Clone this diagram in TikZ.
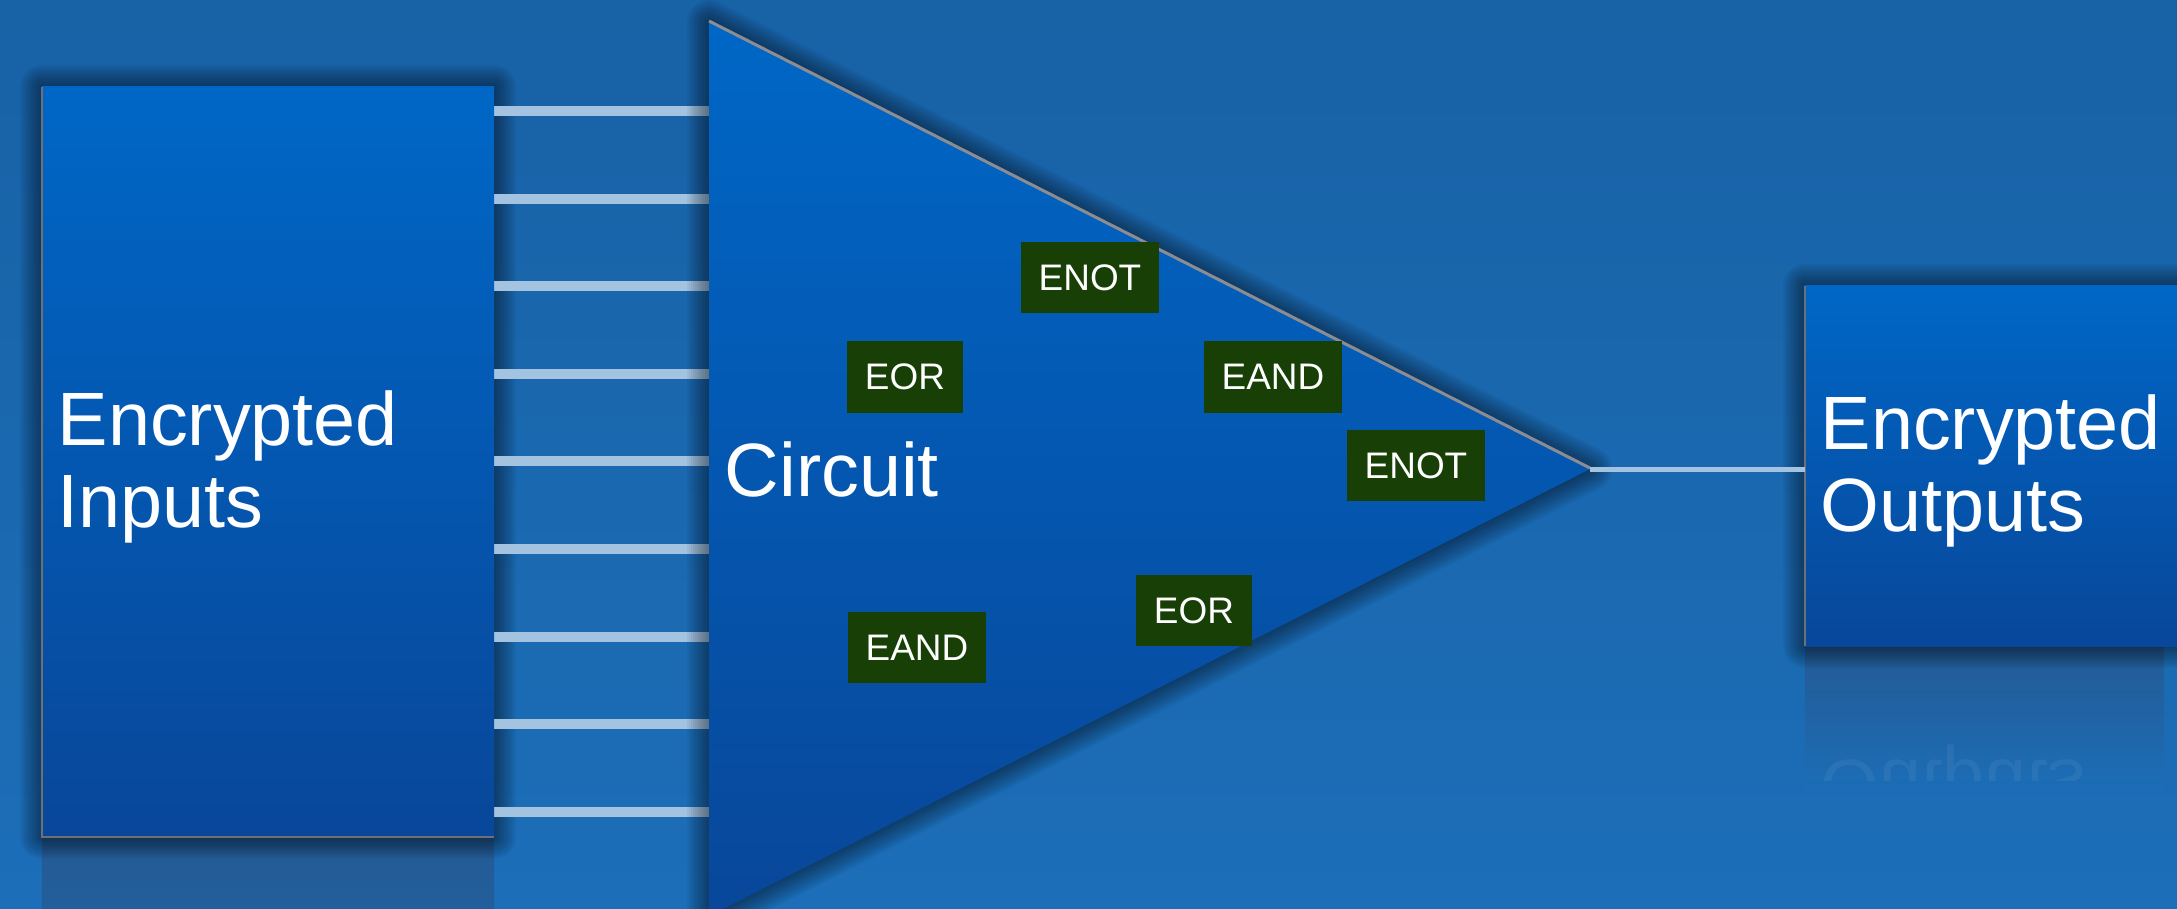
\documentclass[tikz,border=0pt]{standalone}
\usepackage{fontspec}
\setmainfont{Liberation Sans}

\definecolor{slidetop}{HTML}{1862A6}
\definecolor{slidebot}{HTML}{1C6EB8}
\definecolor{blocktop}{HTML}{0067C6}
\definecolor{blockbot}{HTML}{08479A}
\definecolor{gategreen}{HTML}{173F06}
\definecolor{wirecol}{HTML}{A3C3E1}
\definecolor{rimgray}{HTML}{6E7078}
\definecolor{mirrorcol}{HTML}{245A94}

\pgfdeclarelayer{back}
\pgfdeclarelayer{boxglow}
\pgfdeclarelayer{wiring}
\pgfdeclarelayer{triglow}
\pgfsetlayers{back,boxglow,wiring,triglow,main}

\tikzset{
  block/.style={rectangle, inner sep=0, outer sep=0, top color=blocktop, bottom color=blockbot},
  bigtext/.style={text=white, font=\fontsize{21.5}{23.5}\selectfont, align=left, inner sep=0},
  gate/.style={rectangle, fill=gategreen, text=white, font=\fontsize{10.5}{12}\selectfont,
    inner xsep=0.175cm, inner ysep=0, minimum height=0.71cm},
  wire/.style={draw=wirecol, line width=0.1cm},
  glow/.style={draw=black, draw opacity=0.045, line join=round},
}

\begin{document}
\begin{tikzpicture}[x=0.01cm, y=-0.01cm]
  \clip (0,0) rectangle (2177,908);

  % triangle corners
  \coordinate (ctop) at (709,22);
  \coordinate (ctip) at (1590,469);
  \coordinate (cbot) at (709,916);

  \node[block, minimum width=4.52cm, minimum height=7.5cm] (inbox) at (268,462) {};
  \node[block, minimum width=3.85cm, minimum height=3.6cm] (outbox) at (1997.5,466) {};

  \begin{pgfonlayer}{back}
    \shade[top color=slidetop, bottom color=slidebot] (0,0) rectangle (2177,908);
    % reflections under the blocks
    \shade[top color=mirrorcol, bottom color=mirrorcol!70!slidebot] (inbox.south west) rectangle ([yshift=-1cm]inbox.south east);
    \shade[top color=mirrorcol, bottom color=slidebot!95!slidetop] (outbox.south west) rectangle (2164,790);
    \begin{scope}
      \clip (outbox.south west) rectangle (2164,780);
      \node[bigtext, yscale=-1, opacity=0.06, anchor=west] (outmirror) at ([xshift=0.15cm, yshift=-3.55cm]outbox.west) {Encrypted\\Outputs};
    \end{scope}
  \end{pgfonlayer}

  % soft shadows
  \begin{pgfonlayer}{boxglow}
    \foreach \w in {4,8,...,44} {
      \draw[glow, line width=\w*0.01cm] (inbox.north west) rectangle (inbox.south east);
      \draw[glow, line width=\w*0.01cm] (outbox.north west) rectangle (outbox.south east);
    }
  \end{pgfonlayer}

  % input wires
  \begin{pgfonlayer}{wiring}
    \foreach \i in {0,...,8} {
      \pgfmathsetmacro\wy{111+87.6*\i}
      \draw[wire] (inbox.east |- 0,\wy) -- (ctop |- 0,\wy);
    }
  \end{pgfonlayer}

  \begin{pgfonlayer}{triglow}
    \foreach \w in {4,8,...,44}
      \draw[glow, line width=\w*0.01cm] (ctop) -- (ctip) -- (cbot) -- cycle;
  \end{pgfonlayer}

  \shade[top color=blocktop, bottom color=blockbot] (ctop) -- (ctip) -- (cbot) -- cycle;
  \draw[rimgray!80!white, line width=0.03cm] ([yshift=0.01cm]ctop) -- ([yshift=0.01cm]ctip);
  \draw[rimgray, line width=0.025cm] (inbox.north west) -- (inbox.south west) -- (inbox.south east);
  \draw[rimgray, line width=0.02cm] (outbox.north west) -- (outbox.south west);

  % output wire
  \draw[wirecol, line width=0.05cm] (ctip) -- (outbox.west |- ctip);

  \node[bigtext, anchor=west] (inlbl) at ([xshift=0.15cm, yshift=-0.05cm]inbox.west) {Encrypted\\Inputs};
  \node[bigtext, anchor=west] (outlbl) at ([xshift=0.15cm, yshift=-0.05cm]outbox.west) {Encrypted\\Outputs};
  \node[bigtext, anchor=west] (circlbl) at ([xshift=0.15cm]ctop |- ctip) {Circuit};

  % gates
  \node[gate] (enot1) at (1090,277.5) {ENOT};
  \node[gate] (eor1) at (905,377) {EOR};
  \node[gate] (eand1) at (1273,377) {EAND};
  \node[gate] (enot2) at (1416,465.5) {ENOT};
  \node[gate] (eor2) at (1194,610.5) {EOR};
  \node[gate] (eand2) at (917,647.5) {EAND};
\end{tikzpicture}
\end{document}
